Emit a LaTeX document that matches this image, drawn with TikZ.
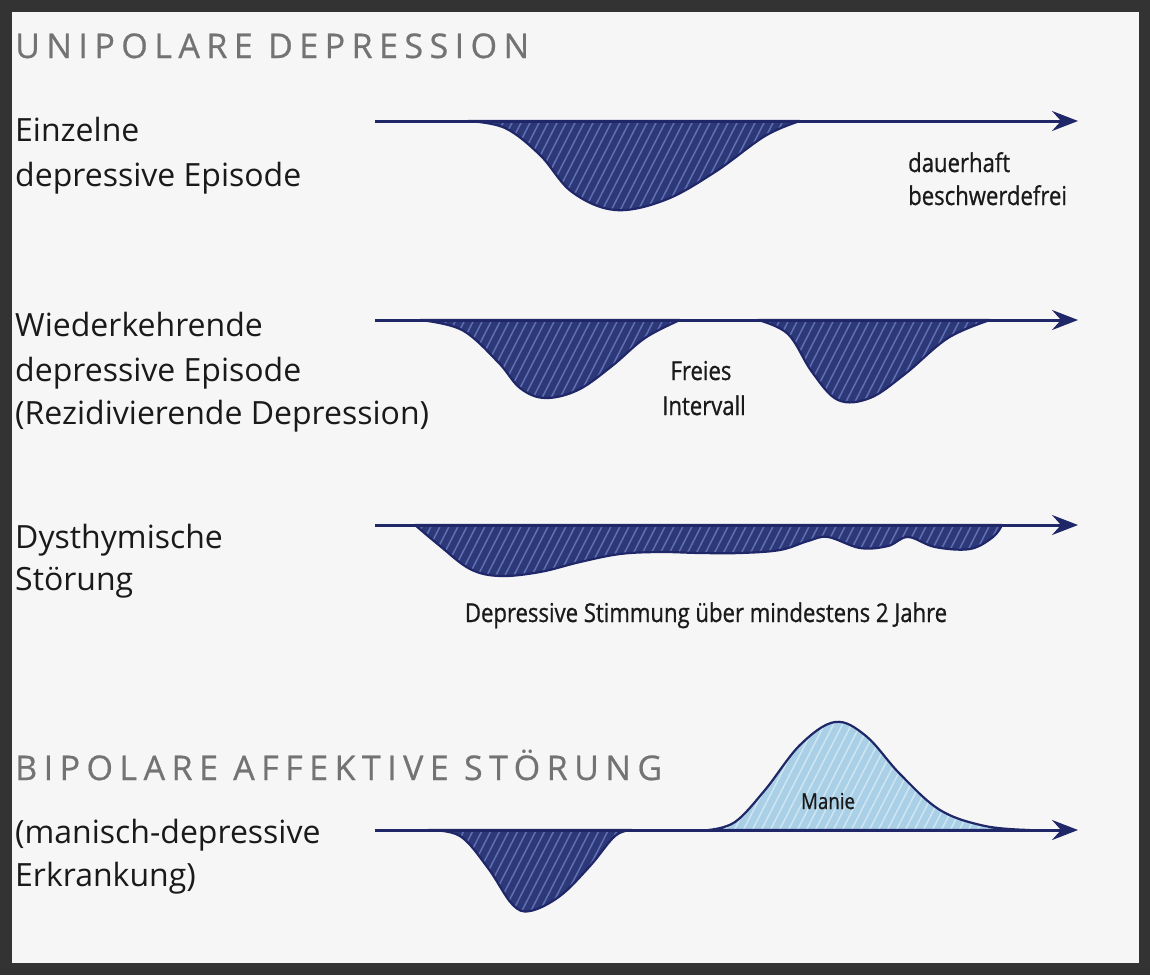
\documentclass[tikz,border=0pt]{standalone}
\usepackage{fontspec}
\setmainfont{Open Sans}
\newfontfamily\condfont[FakeStretch=0.85,FakeBold=0.8]{Open Sans}
\newfontfamily\titlefont[LetterSpace=19,FakeBold=0.6]{Open Sans}
\usetikzlibrary{arrows.meta}
\definecolor{navy}{HTML}{2C3878}
\definecolor{navyline}{HTML}{1F2768}
\definecolor{hatchc}{HTML}{5F70B2}
\definecolor{maniafill}{HTML}{A9D0E6}
\definecolor{maniahatch}{HTML}{CFE5F2}
\definecolor{framec}{HTML}{333333}
\definecolor{bgc}{HTML}{F6F6F6}
\definecolor{titlec}{HTML}{737373}
\definecolor{textc}{HTML}{1A1A1A}
\newcommand{\hatchedshape}[3]{%
  \begin{scope}
    \fill[#1] #3;
    \clip #3;
    \foreach \i in {-600,-591,...,1100} \draw[#2, line width=1.5pt] (\i,975) -- ++(500,-975);
  \end{scope}
  \draw[shapeline] #3;
}
\tikzset{
  axis/.style={line width=3pt, draw=navyline, -{Stealth[length=26pt,width=20pt,inset=9pt]}},
  shapeline/.style={line width=2.2pt, draw=navyline, line join=round},
  biglabel/.style={anchor=base west, inner sep=0pt, text=textc, font=\fontsize{32}{36}\selectfont},
  smalllabel/.style={inner sep=0pt, text=textc, font=\condfont\fontsize{26}{30}\selectfont},
  headline/.style={anchor=base west, inner sep=0pt, text=titlec, font=\titlefont\fontsize{34}{38}\selectfont},
}
\begin{document}
\begin{tikzpicture}[x=1pt,y=-1pt]
\fill[framec] (0,0) rectangle (1150,975);
\fill[bgc] (12,12) rectangle (1139,963);
\useasboundingbox (0,0) rectangle (1150,975);

% headings and labels
\node[headline] (t1) at (15,58) {UNIPOLARE DEPRESSION};
\node[biglabel] (l1a) at (15,141) {Einzelne};
\node[biglabel] (l1b) at (15,186) {depressive Episode};
\node[biglabel] (l2a) at (15,336) {Wiederkehrende};
\node[biglabel] (l2b) at (15,381) {depressive Episode};
\node[biglabel] (l2c) at (15,424) {(Rezidivierende Depression)};
\node[biglabel] (l3a) at (15,548) {Dysthymische};
\node[biglabel] (l3b) at (15,590) {Störung};
\node[headline] (t2) at (15,780) {BIPOLARE AFFEKTIVE STÖRUNG};
\node[biglabel] (l4a) at (15,843) {(manisch-depressive};
\node[biglabel] (l4b) at (15,886) {Erkrankung)};

% row 1
\hatchedshape{navy}{hatchc}{plot[smooth, tension=0.6] coordinates {(468,121) (505,128) (540,155) (572,192) (615,210) (665,200) (715,172) (765,136) (800,121)} -- cycle}
\coordinate (a1s) at (375,121);
\coordinate (a1e) at (1078,121);
\draw[axis] (a1s) -- (a1e);
\node[smalllabel, anchor=base west] (s1a) at (908,172) {dauerhaft};
\node[smalllabel, anchor=base west] (s1b) at (908,205) {beschwerdefrei};

% row 2
\hatchedshape{navy}{hatchc}{plot[smooth, tension=0.6] coordinates {(420,320) (462,330) (498,362) (520,388) (545,398) (578,390) (612,366) (645,338) (680,320)} -- cycle}
\hatchedshape{navy}{hatchc}{plot[smooth, tension=0.6] coordinates {(758,320) (788,334) (812,372) (838,400) (870,398) (905,374) (948,338) (990,320)} -- cycle}
\coordinate (a2s) at (375,320);
\coordinate (a2e) at (1078,320);
\draw[axis] (a2s) -- (a2e);
\node[smalllabel, anchor=base] (s2a) at (701,380) {Freies};
\node[smalllabel, anchor=base] (s2b) at (704,415) {Intervall};

% row 3
\hatchedshape{navy}{hatchc}{plot[smooth, tension=0.6] coordinates {(415,525) (440,546) (470,569) (500,576) (540,572) (580,562) (620,554) (660,552) (700,553) (740,553) (780,550) (808,541) (828,537) (860,548) (888,546) (908,537) (935,547) (970,549) (993,537) (1002,525)} -- cycle}
\coordinate (a3s) at (375,525);
\coordinate (a3e) at (1078,525);
\draw[axis] (a3s) -- (a3e);
\node[smalllabel, anchor=base] (s3) at (706,622) {Depressive Stimmung über mindestens 2 Jahre};

% row 4
\hatchedshape{navy}{hatchc}{plot[smooth, tension=0.6] coordinates {(428,830) (460,836) (488,868) (512,904) (530,911) (560,896) (590,866) (615,836) (632,830)} -- cycle}
\hatchedshape{maniafill}{maniahatch}{plot[smooth, tension=0.6] coordinates {(708,830) (735,822) (765,790) (800,745) (835,722) (866,736) (900,774) (940,810) (985,826) (1030,830)} -- cycle}
\coordinate (a4s) at (375,830);
\coordinate (a4e) at (1078,830);
\draw[axis] (a4s) -- (a4e);
\node[smalllabel, anchor=base, font=\condfont\fontsize{22}{24}\selectfont] (s4) at (828,809) {Manie};
\end{tikzpicture}
\end{document}
